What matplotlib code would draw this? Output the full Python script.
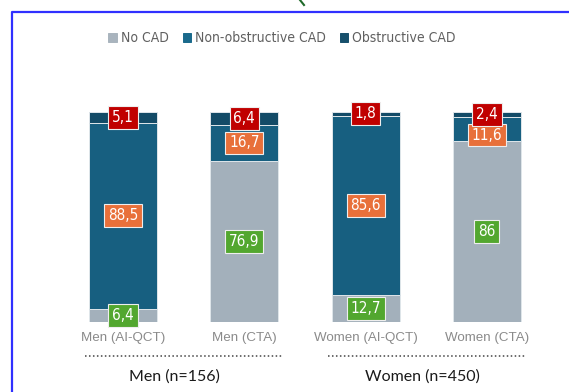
import matplotlib
matplotlib.use('Agg')
import matplotlib.pyplot as plt
from matplotlib.lines import Line2D
from matplotlib.font_manager import fontManager, FontProperties

categories = ['Men (AI-QCT)', 'Men (CTA)', 'Women (AI-QCT)', 'Women (CTA)']
no_cad = [6.4, 76.9, 12.7, 86]
non_obstructive = [88.5, 16.7, 85.6, 11.6]
obstructive = [5.1, 6.4, 1.8, 2.4]
groups = ['Men (n=156)', 'Women (n=450)']

# look for a narrow upright regular sans face for the legend and value tags
narrow_file = None
for f in sorted(fontManager.ttflist, key=lambda f: f.fname):
    fn = f.fname.split('/')[-1]
    is_narrow = ('Narrow' in f.name or 'Condensed' in f.name or
                 'Condensed' in fn or 'Narrow' in fn or
                 f.stretch in ('condensed', 'semi-condensed', 'extra-condensed'))
    if is_narrow and f.style == 'normal' and f.weight in (400, 'normal', 'regular') \
            and 'Sans' in f.name and 'Mono' not in f.name:
        if not any(s in fn for s in ['Bold', 'Italic', 'It.', 'Light', 'Thin',
                                     'Black', 'Medium', 'Semi', 'Extra']):
            narrow_file = f.fname
            break
print(narrow_file)


def narrow_font(size):
    if narrow_file:
        return FontProperties(fname=narrow_file, size=size)
    return FontProperties(family='Roboto', size=size * 0.85)


c_none = '#a3b0bb'
c_nonobs = '#175f80'
c_obs = '#134b67'


def fmt(v):
    return f'{v:g}'.replace('.', ',')


fig = plt.figure(figsize=(5.69, 3.92), dpi=100)
ax = fig.add_axes([62.3 / 569, 70 / 392, 485.3 / 569, 210 / 392])
ax.set_xlim(-0.5, 3.5)
ax.set_ylim(0, 100)
ax.axis('off')

x = range(len(categories))
w = 0.56
edge = dict(edgecolor='#dfe6ea', linewidth=0.7)
b1 = ax.bar(x, no_cad, w, color=c_none, label='No CAD', **edge)
b2 = ax.bar(x, non_obstructive, w, bottom=no_cad, color=c_nonobs,
            label='Non-obstructive CAD', **edge)
bottom2 = [a + b for a, b in zip(no_cad, non_obstructive)]
b3 = ax.bar(x, obstructive, w, bottom=bottom2, color=c_obs,
            label='Obstructive CAD', **edge)


def tag(xi, yi, v, color):
    ax.text(xi, yi, fmt(v), ha='center', va='center', color='white',
            fontproperties=narrow_font(11),
            bbox=dict(boxstyle='square,pad=0.25', fc=color,
                      ec='#eeeeee', lw=0.8))


for i in x:
    top = bottom2[i] + obstructive[i]
    y_red = top - obstructive[i] / 2
    y_orange = no_cad[i] + non_obstructive[i] / 2
    y_orange = min(y_orange, y_red - 9.8)
    y_green = no_cad[i] / 2
    tag(i, y_green, no_cad[i], '#52a72f')
    tag(i, y_orange, non_obstructive[i], '#e8703a')
    tag(i, y_red, obstructive[i], '#c00000')

# category names under the bars
tr = ax.get_xaxis_transform()
for i, c in enumerate(categories):
    ax.text(i, -0.078, c, transform=tr, ha='center', va='center',
            color='#8a8a8a', fontsize=9.6, family='Liberation Sans',
            clip_on=False)

# dotted group separators and group names
for gx, gname, tx in zip([0.5, 2.5], groups, [0.426, 2.47]):
    ax.add_line(Line2D([gx - 0.81, gx + 0.81], [-0.162, -0.162],
                       transform=tr, color='#444444', lw=1.1,
                       linestyle=(0, (1, 1.6)), clip_on=False))
    ax.text(tx, -0.26, gname, transform=tr, ha='center', va='center',
            color='#1a1a1a', fontsize=11.5, family='Lato',
            clip_on=False)

leg = ax.legend(handles=[b1, b2, b3], loc='center', ncol=3,
                bbox_to_anchor=(282 / 569, 1 - 38.5 / 392),
                bbox_transform=fig.transFigure, frameon=False,
                handlelength=0.6, handleheight=0.6, handletextpad=0.3,
                columnspacing=1.0, prop=narrow_font(10))
for t in leg.get_texts():
    t.set_color('#606060')
for h, c in zip(leg.legend_handles, ['#a9b4be', '#1a6a8c', '#17506c']):
    h.set_color(c)
    h.set_edgecolor(c)

# blue frame around the panel
fig.add_artist(Line2D([11.5 / 569, 11.5 / 569, 1.0],
                      [0.0, 1 - 11.5 / 392, 1 - 11.5 / 392],
                      transform=fig.transFigure, color='#3030ff', lw=1.6))
fig.add_artist(Line2D([300 / 569, 304 / 569], [1.0, 1 - 5 / 392],
                      transform=fig.transFigure, color='#1f6a2a', lw=1.5))

fig.savefig('out.png', dpi=100)
